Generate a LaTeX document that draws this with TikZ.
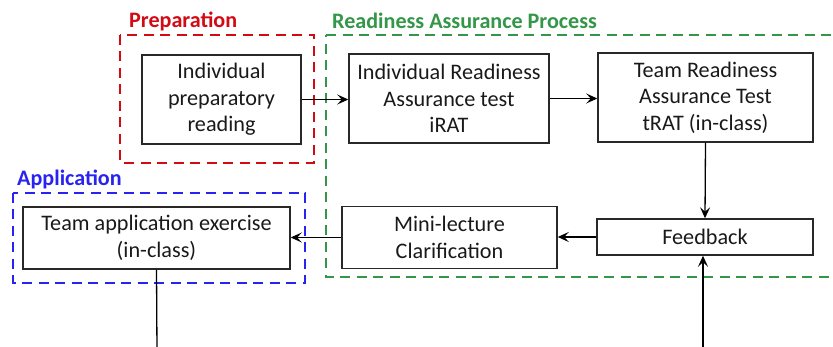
\documentclass[tikz,border=0pt]{standalone}
\usepackage{fontspec}
\setmainfont{Carlito}
\usetikzlibrary{arrows.meta,calc}
\definecolor{prepred}{RGB}{210,10,20}
\definecolor{rapgreen}{RGB}{52,150,72}
\definecolor{appblue}{RGB}{40,35,240}
\definecolor{boxgray}{RGB}{40,40,40}
\definecolor{txtgray}{RGB}{25,25,25}
\tikzset{
  stage/.style={draw=boxgray,line width=1.5pt,rectangle,align=center,inner sep=0pt,
    text=txtgray,font=\fontsize{22.2}{26.5}\selectfont},
  group/.style={line width=2.4pt,dash pattern=on 10pt off 6.5pt},
  grouplabel/.style={anchor=west,inner sep=0pt,font=\fontsize{22.1}{24}\selectfont\bfseries},
  flow/.style={draw=black,line width=1.3pt,-{Stealth[length=11pt,width=10pt,inset=4.5pt]}},
  plain/.style={draw=black,line width=1.3pt}
}
\begin{document}
\begin{tikzpicture}[x=1pt,y=-1pt]
\useasboundingbox (0,0) rectangle (833,347);
% groups
\draw[group,draw=prepred] (120,35) rectangle (314,163);
\draw[group,draw=rapgreen,line width=2pt] (326,35) -- (845,35) (845,277.5) -- (326,277.5) -- (326,35);
\draw[group,draw=appblue] (13,193) rectangle (305,283);
\node[grouplabel,text=prepred] (lprep) at (129,21) {Preparation};
\node[grouplabel,text=rapgreen] (lrap) at (332,21) {Readiness Assurance Process};
\node[grouplabel,text=appblue] (lapp) at (17,179) {Application};
% stages
\node[stage,minimum width=159pt,minimum height=89pt] (prep) at (221.5,99.5) {Individual\\preparatory\\reading};
\node[stage,minimum width=200pt,minimum height=89pt] (irat) at (449,98.5) {Individual Readiness\\Assurance test\\iRAT};
\node[stage,minimum width=215pt,minimum height=89pt] (trat) at (705.5,97.5) {Team Readiness\\Assurance Test\\tRAT (in-class)};
\node[stage,minimum width=216pt,minimum height=36pt] (feed) at (705,237) {Feedback};
\node[stage,minimum width=215pt,minimum height=62pt] (mini) at (449.5,237.5) {Mini-lecture\\Clarification};
\node[stage,minimum width=267pt,minimum height=62pt] (tapp) at (156.5,238) {Team application exercise\\(in-class)};
% connectors
\coordinate (fbin) at (703,352);
\coordinate (tout) at (157,352);
\draw[flow] (prep.east) -- (prep.east -| irat.west);
\draw[flow] (irat.east) -- (irat.east -| trat.west);
\draw[flow] (trat.south) -- (feed.north);
\draw[flow] (feed.west) -- (feed.west -| mini.east);
\draw[flow] (mini.west) -- (mini.west -| tapp.east);
\draw[flow] (fbin) -- (fbin |- feed.south);
\draw[plain] (tapp.south) -- (tout);
\end{tikzpicture}
\end{document}
